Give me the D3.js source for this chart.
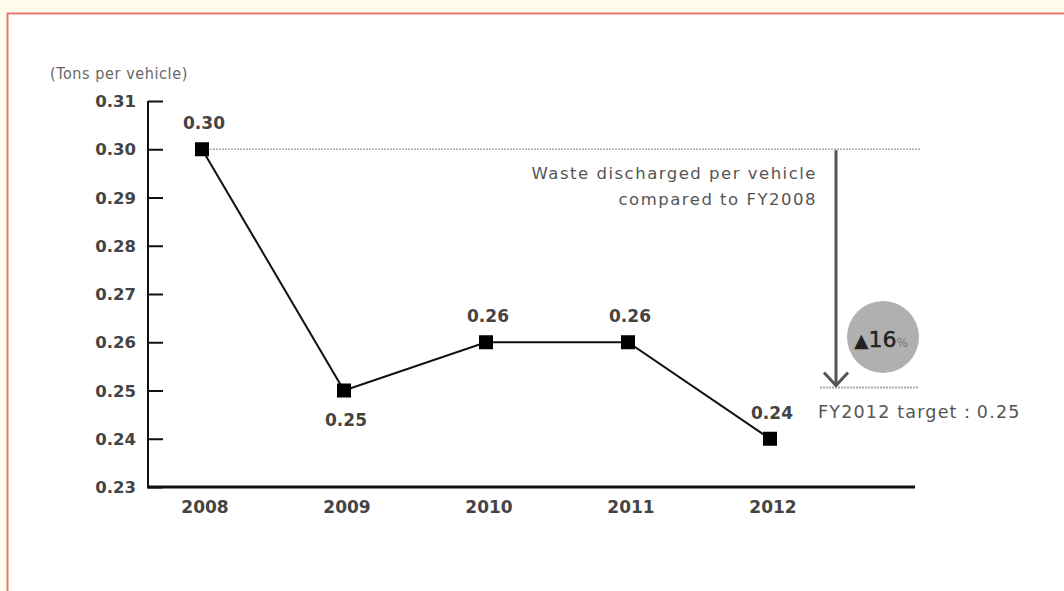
<!DOCTYPE html>
<html>
<head>
<meta charset="utf-8">
<script src="https://cdn.jsdelivr.net/npm/d3@7"></script>
<style>
  html, body { margin: 0; padding: 0; background: #fffbea; }
  svg { display: block; }
</style>
</head>
<body>
<svg id="chart" width="1064" height="591"></svg>
<script>
// data
const years = [2008, 2009, 2010, 2011, 2012];
const waste = [0.30, 0.25, 0.26, 0.26, 0.24];
const labelPos = ['above', 'below', 'above', 'above', 'above'];
const yTicks = [0.23, 0.24, 0.25, 0.26, 0.27, 0.28, 0.29, 0.30, 0.31];
const baseValue = 0.30;
const targetValue = 0.25;
const reduction = 16;

const svg = d3.select('#chart');
const font = 'DejaVu Sans, Verdana, sans-serif';

// panel with red border
svg.append('rect')
    .attr('x', 7.5).attr('y', 13.5)
    .attr('width', 1070).attr('height', 600)
    .attr('fill', '#ffffff')
    .attr('stroke', '#e77a6c')
    .attr('stroke-width', 2);

const xScale = d3.scaleLinear()
    .domain([2008, 2012])
    .range([202, 770]);

const yScale = d3.scaleLinear()
    .domain([0.23, 0.31])
    .range([487, 101]);

const chart = svg.append('g');

// y axis (ticks pointing inward)
const yAxis = d3.axisRight(yScale)
    .tickValues(yTicks)
    .tickSize(15)
    .tickFormat('');
const yAxisGroup = chart.append('g')
    .attr('transform', 'translate(148,0)')
    .call(yAxis);
yAxisGroup.select('.domain').remove();
yAxisGroup.selectAll('.tick line').attr('stroke', '#111').attr('stroke-width', 2);
chart.append('line')
    .attr('x1', 148).attr('x2', 148)
    .attr('y1', yScale(0.31)).attr('y2', yScale(0.23))
    .attr('stroke', '#111').attr('stroke-width', 2);

chart.selectAll('.ylab')
    .data(yTicks)
    .join('text')
    .attr('class', 'ylab')
    .attr('x', 136)
    .attr('y', d => yScale(d) + 6)
    .attr('text-anchor', 'end')
    .attr('font-family', font)
    .attr('font-size', 16.5)
    .attr('font-weight', 'bold')
    .attr('fill', '#444')
    .text(d => d.toFixed(2));

// x axis
chart.append('line')
    .attr('x1', 147).attr('x2', 915)
    .attr('y1', yScale(0.23)).attr('y2', yScale(0.23))
    .attr('stroke', '#111').attr('stroke-width', 3);

chart.selectAll('.xlab')
    .data(years)
    .join('text')
    .attr('class', 'xlab')
    .attr('x', d => xScale(d) + 3)
    .attr('y', 513)
    .attr('text-anchor', 'middle')
    .attr('font-family', font)
    .attr('font-size', 17)
    .attr('font-weight', 'bold')
    .attr('fill', '#444')
    .text(d => d);

// unit
svg.append('text')
    .attr('x', 50).attr('y', 79)
    .attr('font-family', 'DejaVu Sans Condensed, DejaVu Sans, sans-serif')
    .attr('font-stretch', 'condensed')
    .attr('font-size', 16)
    .attr('letter-spacing', 0.6)
    .attr('fill', '#666')
    .text('(Tons per vehicle)');

// FY2008 reference dotted line
chart.append('line')
    .attr('x1', xScale(2008) + 8).attr('x2', 920)
    .attr('y1', yScale(baseValue)).attr('y2', yScale(baseValue))
    .attr('stroke', '#aaa').attr('stroke-width', 1.5)
    .attr('stroke-dasharray', '2,1');

// target dotted line
chart.append('line')
    .attr('x1', 820).attr('x2', 918)
    .attr('y1', yScale(targetValue) - 3).attr('y2', yScale(targetValue) - 3)
    .attr('stroke', '#aaa').attr('stroke-width', 2)
    .attr('stroke-dasharray', '2,1');

// series line
const pts = years.map((y, i) => ({year: y, value: waste[i], pos: labelPos[i]}));
const line = d3.line().x(d => xScale(d.year)).y(d => yScale(d.value));
chart.append('path')
    .datum(pts)
    .attr('d', line)
    .attr('fill', 'none')
    .attr('stroke', '#111')
    .attr('stroke-width', 2);

chart.selectAll('.mark')
    .data(pts)
    .join('rect')
    .attr('class', 'mark')
    .attr('x', d => xScale(d.year) - 7)
    .attr('y', d => yScale(d.value) - 7)
    .attr('width', 14).attr('height', 14)
    .attr('fill', '#000');

chart.selectAll('.vlab')
    .data(pts)
    .join('text')
    .attr('class', 'vlab')
    .attr('x', d => xScale(d.year) + 2)
    .attr('y', d => d.pos === 'above' ? yScale(d.value) - 20 : yScale(d.value) + 35)
    .attr('text-anchor', 'middle')
    .attr('font-family', font)
    .attr('font-size', 17)
    .attr('font-weight', 'bold')
    .attr('fill', '#444')
    .text(d => d.value.toFixed(2));

// reduction arrow
const arrowX = 836;
const tipY = yScale(targetValue) - 5;
chart.append('line')
    .attr('x1', arrowX).attr('x2', arrowX)
    .attr('y1', yScale(baseValue) + 1).attr('y2', tipY)
    .attr('stroke', '#555').attr('stroke-width', 3);
chart.append('path')
    .attr('d', `M${arrowX - 12},${tipY - 13} L${arrowX},${tipY} L${arrowX + 12},${tipY - 13}`)
    .attr('fill', 'none')
    .attr('stroke', '#555').attr('stroke-width', 3);

// annotation text
const note = chart.append('text')
    .attr('text-anchor', 'end')
    .attr('font-family', font)
    .attr('font-size', 16.5)
    .attr('letter-spacing', 1.5)
    .attr('fill', '#555');
note.append('tspan').attr('x', 817).attr('y', 179).text('Waste discharged per vehicle');
note.append('tspan').attr('x', 817).attr('y', 205).text('compared to FY2008');

// reduction badge
chart.append('circle')
    .attr('cx', 883).attr('cy', 337).attr('r', 36)
    .attr('fill', '#b0b0b0');
const badge = chart.append('text')
    .attr('x', 881).attr('y', 347)
    .attr('text-anchor', 'middle')
    .attr('font-family', font)
    .attr('fill', '#222');
badge.append('tspan').attr('font-size', 19).text('▲');
badge.append('tspan').attr('font-size', 22).attr('stroke', '#222').attr('stroke-width', 0.4).text(reduction);
badge.append('tspan').attr('font-size', 12).attr('fill', '#777').text('%');

// target label
chart.append('text')
    .attr('x', 818).attr('y', 418)
    .attr('font-family', font)
    .attr('font-size', 17.5)
    .attr('letter-spacing', 1.2)
    .attr('fill', '#555')
    .text('FY2012 target：' + targetValue.toFixed(2));
</script>
</body>
</html>
